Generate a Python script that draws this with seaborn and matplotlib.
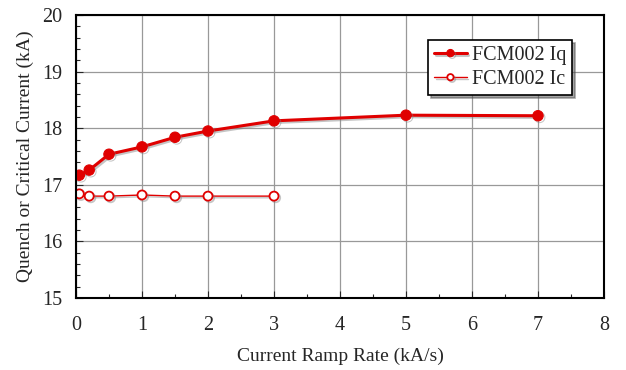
import matplotlib
matplotlib.use("Agg")
import matplotlib.pyplot as plt
import matplotlib.patheffects as pe
import seaborn as sns
import pandas as pd
from matplotlib.ticker import MultipleLocator

x_iq = [0.05, 0.2, 0.5, 1, 1.5, 2, 3, 5, 7]
y_iq = [17.17, 17.26, 17.54, 17.67, 17.84, 17.95, 18.13, 18.23, 18.22]
x_ic = [0.05, 0.2, 0.5, 1, 1.5, 2, 3]
y_ic = [16.84, 16.80, 16.80, 16.82, 16.80, 16.80, 16.80]
labels = ["FCM002 Iq", "FCM002 Ic"]

df_iq = pd.DataFrame({"x": x_iq, "y": y_iq})
df_ic = pd.DataFrame({"x": x_ic, "y": y_ic})

sns.set_style("white")
plt.rcParams['font.family'] = ['Liberation Serif', 'DejaVu Serif']

fig = plt.figure(figsize=(6.26, 3.70), dpi=100)
ax = fig.add_axes([76/626, 1 - 298/370, (604-76)/626, (298-15)/370])

red = "#e00000"
shadow = [pe.SimpleLineShadow(offset=(1.2, -1.2), shadow_color="gray", alpha=0.45), pe.Normal()]
sns.lineplot(data=df_iq, x="x", y="y", ax=ax, color=red, lw=2.2, marker="o",
             markersize=7.5, markeredgecolor=red, markerfacecolor=red, label=labels[0],
             path_effects=shadow)
sns.lineplot(data=df_ic, x="x", y="y", ax=ax, color=red, lw=1.0, marker="o",
             markersize=6.5, markeredgecolor=red, markerfacecolor="white",
             markeredgewidth=1.3, label=labels[1], path_effects=shadow)

ax.set_xlim(0, 8)
ax.set_ylim(15, 20)
ax.xaxis.set_major_locator(MultipleLocator(1))
ax.xaxis.set_minor_locator(MultipleLocator(0.5))
ax.yaxis.set_major_locator(MultipleLocator(1))
ax.yaxis.set_minor_locator(MultipleLocator(0.2))
ax.grid(True, which="major", color="#999999", lw=0.9)
ax.tick_params(which="both", direction="in", labelsize=14.5, length=5, width=0.8,
               bottom=True, left=True, top=False, right=False)
ax.tick_params(which="minor", length=3)
ax.tick_params(axis="x", pad=13)
ax.tick_params(axis="y", pad=10)
for s in ax.spines.values():
    s.set_color("black")
    s.set_linewidth(1.5)

ax.set_xlabel("Current Ramp Rate (kA/s)", fontsize=14, labelpad=9)
ax.set_ylabel("Quench or Critical Current (kA)", fontsize=14, labelpad=6)

leg = ax.legend(loc="upper right", bbox_to_anchor=(572/626, 1 - 40/370),
                bbox_transform=fig.transFigure, fontsize=14.5, frameon=True,
                fancybox=False, shadow=True, handlelength=1.6, handletextpad=0.25,
                borderpad=0.3, labelspacing=0.25, borderaxespad=0, markerscale=0.7)
leg.get_frame().set_edgecolor("black")
leg.get_frame().set_linewidth(1.2)

fig.savefig("out.png", dpi=100)
